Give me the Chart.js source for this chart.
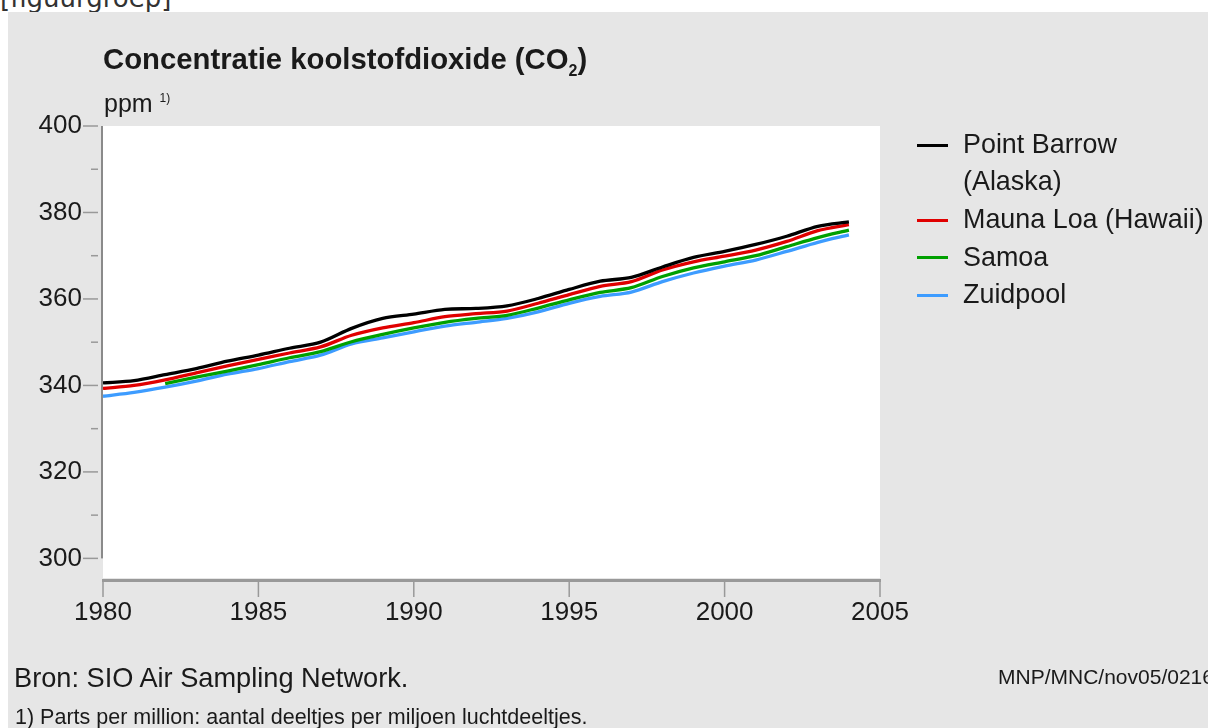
<!DOCTYPE html>
<html><head><meta charset="utf-8">
<script src="https://cdn.jsdelivr.net/npm/chart.js@4/dist/chart.umd.min.js"></script>
<style>
html,body{margin:0;padding:0;background:#fff;width:1208px;height:728px;overflow:hidden;font-family:"Liberation Sans",Arial,sans-serif;}
#panel{position:absolute;left:8px;top:12px;width:1200px;height:716px;background:#e6e6e6;}
.t{position:absolute;white-space:nowrap;color:#1a1a1a;line-height:1;}
canvas{position:absolute;left:0;top:0;}
.sw{position:absolute;height:3px;width:31px;left:917px;}
</style></head><body>
<div class="t" style="left:0;top:-15px;font-family:'DejaVu Sans';font-size:26px;color:#333;">[figuurgroep]</div>
<div id="panel"></div>
<canvas id="c" width="1208" height="728"></canvas>
<div class="t" style="left:103px;top:44px;font-size:29.3px;font-weight:bold;">Concentratie koolstofdioxide (CO<span style="font-size:16px;position:relative;top:7px;">2</span>)</div>
<div class="t" style="left:104px;top:91px;font-size:25px;">ppm <span style="font-size:12px;position:relative;top:-10px;">1)</span></div>
<div class="t" style="left:14px;top:664px;font-size:27.2px;">Bron: SIO Air Sampling Network.</div>
<div class="t" style="left:998px;top:666px;font-size:21px;">MNP/MNC/nov05/0216</div>
<div class="t" style="left:15px;top:707px;font-size:21.5px;">1) Parts per million: aantal deeltjes per miljoen luchtdeeltjes.</div>
<div id="legend"></div>
<script>
const years = [1980,1981,1982,1983,1984,1985,1986,1987,1988,1989,1990,1991,1992,1993,1994,1995,1996,1997,1998,1999,2000,2001,2002,2003,2004];
const pointBarrow = [340.6,341.1,342.5,343.9,345.6,347.0,348.6,350.0,353.2,355.5,356.5,357.6,357.8,358.4,360.1,362.2,364.1,365.0,367.4,369.6,371.0,372.6,374.5,376.8,377.8];
const maunaLoa = [339.3,340.0,341.3,342.9,344.5,346.0,347.5,348.9,351.6,353.3,354.5,355.9,356.6,357.2,359.0,361.0,362.9,364.0,366.7,368.6,369.9,371.3,373.3,375.8,377.2];
const samoa = [null,null,340.4,341.9,343.3,344.8,346.4,347.8,350.1,351.8,353.3,354.6,355.5,356.2,357.9,359.8,361.5,362.6,365.2,367.2,368.6,370.0,372.1,374.2,375.9];
const zuidpool = [337.5,338.4,339.6,341.0,342.6,343.9,345.5,347.0,349.6,351.0,352.4,353.7,354.6,355.5,357.0,359.0,360.6,361.6,364.0,366.0,367.6,369.0,371.0,373.1,374.8];
const seriesNames = ['Point Barrow (Alaska)','Mauna Loa (Hawaii)','Samoa','Zuidpool'];
const legendLines = [['Point Barrow','(Alaska)'],['Mauna Loa (Hawaii)'],['Samoa'],['Zuidpool']];
const seriesColors = ['#000000','#e00000','#00a000','#3d9cff'];
const xTicks = [1980,1985,1990,1995,2000,2005];
const yTicks = [300,320,340,360,380,400];
const yMinorTicks = [310,330,350,370,390];

const allSeries = [pointBarrow, maunaLoa, samoa, zuidpool];
const datasets = allSeries.map((s,i)=>({
  label: seriesNames[i],
  data: years.map((yr,j)=>({x:yr,y:s[j]})),
  borderColor: seriesColors[i],
  backgroundColor: seriesColors[i],
  borderWidth: 3.3,
  pointRadius: 0,
  tension: 0.3,
  spanGaps: false,
  fill: false
}));

// HTML legend
(function(){
  const lg = document.getElementById('legend');
  let row = 0;
  const y0 = 145, pitch = 37.6;
  legendLines.forEach((lines,i)=>{
    const sw = document.createElement('div');
    sw.className='sw';
    sw.style.background = seriesColors[i];
    sw.style.top = (y0 + row*pitch - 1.5) + 'px';
    lg.appendChild(sw);
    lines.forEach(txt=>{
      const d = document.createElement('div');
      d.className='t';
      d.style.left='963px';
      d.style.fontSize='26.9px';
      d.style.top=(y0 + row*pitch - 1 + 9.6 - 22.8) + 'px';
      d.textContent = txt;
      lg.appendChild(d);
      row++;
    });
  });
})();

const frame = {
  id:'frame',
  beforeDraw(chart){
    const {ctx, chartArea:a, scales:{x,y}} = chart;
    ctx.save();
    ctx.fillStyle='#ffffff';
    ctx.fillRect(a.left, a.top, a.right-a.left, a.bottom-2-a.top);
    ctx.fillStyle='#8a8a8a';
    const yTop = y.getPixelForValue(yTicks[yTicks.length-1]);
    const yBot = y.getPixelForValue(yTicks[0]);
    ctx.fillRect(a.left-2, yTop, 2, yBot-yTop);
    ctx.strokeStyle='#999999';
    ctx.lineWidth=1.5;
    yTicks.forEach(v=>{
      const p = y.getPixelForValue(v);
      ctx.beginPath(); ctx.moveTo(a.left-20,p); ctx.lineTo(a.left-5,p); ctx.stroke();
    });
    yMinorTicks.forEach(v=>{
      const p = y.getPixelForValue(v);
      ctx.beginPath(); ctx.moveTo(a.left-12,p); ctx.lineTo(a.left-5,p); ctx.stroke();
    });
    ctx.fillStyle='#999999';
    ctx.fillRect(x.getPixelForValue(xTicks[0])-1, a.bottom-1, x.getPixelForValue(xTicks[xTicks.length-1])-x.getPixelForValue(xTicks[0])+2, 3);
    xTicks.forEach(v=>{
      const p = x.getPixelForValue(v);
      ctx.beginPath(); ctx.moveTo(p,a.bottom+2); ctx.lineTo(p,a.bottom+17); ctx.stroke();
    });
    ctx.restore();
  }
};

new Chart(document.getElementById('c'), {
  type:'line',
  data:{datasets},
  plugins:[frame],
  options:{
    responsive:false,
    animation:false,
    devicePixelRatio:1,
    layout:{padding:{left:0,top:126,right:328,bottom:0}},
    plugins:{legend:{display:false},title:{display:false},tooltip:{enabled:false}},
    scales:{
      x:{
        type:'linear', min:1980, max:2005,
        grid:{display:false, drawTicks:false},
        border:{display:false},
        afterBuildTicks(s){ s.ticks = xTicks.map(v=>({value:v})); },
        afterFit(s){ s.height = 148; },
        ticks:{callback:v=>String(v), padding:17, maxRotation:0, autoSkip:false, color:'#1a1a1a', font:{family:'Liberation Sans', size:26}}
      },
      y:{
        type:'linear', min:295, max:400,
        grid:{display:false, drawTicks:false},
        border:{display:false},
        afterBuildTicks(s){ s.ticks = yTicks.map(v=>({value:v})); },
        afterFit(s){ s.width = 103; },
        ticks:{callback:v=>String(v), padding:21, autoSkip:false, color:'#1a1a1a', font:{family:'Liberation Sans', size:26}}
      }
    }
  }
});
</script>
</body></html>
